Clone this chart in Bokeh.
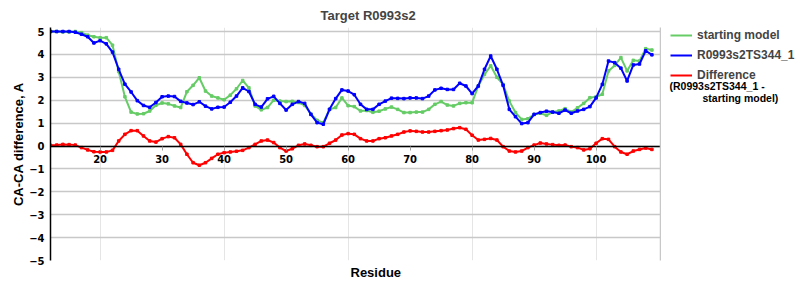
from bokeh.plotting import figure
from bokeh.layouts import row
from bokeh.models import (Range1d, LinearAxis, FixedTicker, Legend, LegendItem, Label, Grid, Title)
from bokeh.embed import file_html
from bokeh.resources import INLINE

residues = list(range(12, 110))

starting_model = [
    5.0, 5.0, 4.98, 4.98, 5.0, 4.95, 4.84, 4.77, 4.73, 4.73,
    4.4, 3.25, 2.15, 1.48, 1.4, 1.41, 1.53, 1.78, 1.88, 1.84,
    1.75, 1.68, 2.37, 2.65, 2.98, 2.4, 2.18, 2.1, 2.02, 2.22,
    2.5, 2.86, 2.54, 1.75, 1.58, 1.68, 2.0, 1.96, 1.94, 1.95,
    1.9, 1.77, 1.4, 1.12, 1.02, 1.6, 1.68, 2.1, 1.76, 1.72,
    1.53, 1.55, 1.47, 1.52, 1.62, 1.7, 1.6, 1.46, 1.46, 1.48,
    1.48, 1.6, 1.82, 1.94, 1.79, 1.75, 1.86, 1.89, 1.89, 2.62,
    3.13, 3.5, 3.0, 2.69, 1.96, 1.46, 1.16, 1.19, 1.38, 1.43,
    1.34, 1.48, 1.53, 1.63, 1.48, 1.67, 1.86, 2.11, 2.15, 2.26,
    3.28, 3.52, 3.86, 3.28, 3.74, 3.71, 4.25, 4.19,
]

ts344 = [
    5.0, 5.0, 5.0, 5.0, 4.97, 4.88, 4.77, 4.5, 4.6, 4.46,
    4.1, 3.35, 2.7, 2.36, 1.98, 1.77, 1.69, 1.9, 2.15, 2.18,
    2.16, 1.95, 1.88, 1.81, 1.93, 1.74, 1.62, 1.69, 1.7, 1.91,
    2.18, 2.54, 2.38, 1.82, 1.7, 2.06, 2.17, 1.86, 1.57, 1.82,
    1.94, 1.86, 1.38, 1.02, 0.95, 1.6, 2.07, 2.45, 2.4, 2.24,
    1.82, 1.6, 1.6, 1.82, 1.96, 2.09, 2.08, 2.07, 2.1, 2.1,
    2.07, 2.18, 2.45, 2.52, 2.47, 2.47, 2.74, 2.62, 2.29, 2.62,
    3.35, 3.93, 3.35, 2.65, 1.6, 1.28, 0.98, 1.02, 1.38, 1.46,
    1.52, 1.48, 1.43, 1.57, 1.43, 1.53, 1.6, 1.72, 2.1, 2.69,
    3.71, 3.64, 3.4, 2.84, 3.54, 3.58, 4.16, 3.98,
]

difference = [
    0.03, 0.04, 0.07, 0.06, 0.04, -0.07, -0.17, -0.25, -0.26, -0.26,
    -0.19, 0.22, 0.51, 0.67, 0.67, 0.44, 0.22, 0.17, 0.32, 0.41,
    0.36, 0.07, -0.36, -0.73, -0.84, -0.73, -0.54, -0.36, -0.29, -0.26,
    -0.23, -0.19, -0.07, 0.07, 0.22, 0.26, 0.15, -0.07, -0.22, -0.12,
    0.03, 0.09, 0.03, -0.03, -0.03, 0.12, 0.26, 0.48, 0.54, 0.51,
    0.32, 0.22, 0.22, 0.32, 0.36, 0.44, 0.51, 0.61, 0.66, 0.64,
    0.61, 0.61, 0.64, 0.67, 0.7, 0.76, 0.8, 0.73, 0.47, 0.26,
    0.29, 0.33, 0.26, -0.03, -0.22, -0.26, -0.22, -0.07, 0.04, 0.13,
    0.09, 0.06, 0.03, 0.04, -0.03, -0.07, -0.17, -0.12, 0.12, 0.32,
    0.29, -0.03, -0.26, -0.36, -0.22, -0.15, -0.09, -0.15,
]

x_ticks = [20, 30, 40, 50, 60, 70, 80, 90, 100]
y_ticks = [-5, -4, -3, -2, -1, 0, 1, 2, 3, 4, 5]

series_names = ["starting model", "R0993s2TS344_1", "Difference"]
series_values = [starting_model, ts344, difference]
difference_note = ["(R0993s2TS344_1 -", "starting model)"]

GREEN = "#66CC66"
BLUE = "#0000FF"
RED = "#FF0000"
COLORS = [GREEN, BLUE, RED]
GRID = "#C8C8C8"
SANS = "Liberation Sans"
TICKF = "DejaVu Sans"

PX_PER_UNIT = 22.9   # vertical scale of the chart frame
TOP_PAD = 4          # frame headroom above the "5" gridline (room for the legend text)

# ---------------- main chart ----------------
p = figure(width=661, height=300, output_backend="svg", toolbar_location=None,
           x_range=Range1d(12, 12 + 610 / 6.2),
           y_range=Range1d(-5, 5 + TOP_PAD / PX_PER_UNIT),
           x_axis_location=None, y_axis_location=None,
           min_border_left=50, min_border_right=1,
           min_border_top=31 - TOP_PAD, min_border_bottom=40)
p.background_fill_color = "white"
p.border_fill_color = "white"
p.outline_line_color = None

p.title.text = "Target R0993s2"
p.title.align = "left"
p.title.offset = 270
p.title.vertical_align = "bottom"
p.title.text_font = SANS
p.title.text_font_size = "13px"
p.title.text_font_style = "bold"
p.title.standoff = 9

grid = Grid(dimension=1, ticker=FixedTicker(ticks=y_ticks),
            grid_line_color=GRID, grid_line_width=1.5)
p.add_layout(grid)

yaxis = LinearAxis(ticker=FixedTicker(ticks=y_ticks), axis_label="CA-CA difference, A")
yaxis.axis_line_color = "black"
yaxis.axis_line_width = 1.5
yaxis.major_tick_out = 0
yaxis.major_tick_in = 0
yaxis.minor_tick_out = 0
yaxis.minor_tick_in = 0
yaxis.major_label_standoff = 6
yaxis.major_label_text_font = TICKF
yaxis.major_label_text_font_size = "10px"
yaxis.major_label_text_font_style = "bold"
yaxis.major_label_text_color = "black"
yaxis.axis_label_standoff = 0
yaxis.axis_label_text_font = SANS
yaxis.axis_label_text_font_size = "13px"
yaxis.axis_label_text_font_style = "bold"
yaxis.axis_label_text_color = "black"
p.add_layout(yaxis, "left")

# right border of the plot area
rborder = LinearAxis(ticker=FixedTicker(ticks=[]))
rborder.axis_line_color = GRID
rborder.axis_line_width = 1.5
rborder.major_tick_out = 0
rborder.major_tick_in = 0
rborder.minor_tick_out = 0
rborder.minor_tick_in = 0
rborder.major_label_text_font_size = "0px"
p.add_layout(rborder, "right")

xaxis = LinearAxis(ticker=FixedTicker(ticks=x_ticks), fixed_location=0)
xaxis.axis_line_color = "black"
xaxis.axis_line_width = 1.5
xaxis.major_tick_out = 4
xaxis.major_tick_in = 0
xaxis.major_tick_line_color = "#A0A0A0"
xaxis.minor_tick_out = 0
xaxis.minor_tick_in = 0
xaxis.major_label_standoff = 5
xaxis.major_label_text_font = TICKF
xaxis.major_label_text_font_size = "10px"
xaxis.major_label_text_font_style = "bold"
xaxis.major_label_text_color = "black"
p.add_layout(xaxis, "below")

xtitle = Title(text="Residue", align="left", offset=300, vertical_align="top",
               standoff=8, text_font=SANS, text_font_size="13px",
               text_font_style="bold", text_color="black")
p.add_layout(xtitle, "below")

for vals, col in zip(series_values, COLORS):
    p.line(residues, vals, line_color=col, line_width=2)
    p.scatter(residues, vals, marker="square", size=2.5, color=col)

# ---------------- legend panel (frame aligned with the chart's frame) ----------------
# x: 1000 + pixels from the panel's left edge; y: pixels from the canvas top
q = figure(width=139, height=300, output_backend="svg", toolbar_location=None, title=None,
           x_range=Range1d(1000, 1139), y_range=Range1d(260, 31 - TOP_PAD),
           x_axis_location=None, y_axis_location=None,
           min_border_left=0, min_border_right=0, min_border_top=0, min_border_bottom=0)
q.outline_line_color = None
q.background_fill_color = "white"
q.border_fill_color = "white"
q.grid.visible = False
q.xgrid.visible = False
q.ygrid.visible = False

items = []
for name, vals, col in zip(series_names, series_values, COLORS):
    # the series themselves, lying outside this panel's view; used for the legend swatches
    lr = q.line(residues, vals, line_color=col, line_width=2)
    items.append(LegendItem(label=name, renderers=[lr]))

legend = Legend(items=items, location=(4, 170))
legend.background_fill_alpha = 0
legend.border_line_alpha = 0
legend.glyph_width = 22
legend.glyph_height = 20
legend.label_height = 20
legend.label_standoff = 5
legend.spacing = 0
legend.padding = 5
legend.margin = 0
legend.label_text_font = SANS
legend.label_text_font_size = "12px"
legend.label_text_font_style = "bold"
q.add_layout(legend)

q.add_layout(Label(x=1008, y=85, text=difference_note[0], text_align="left",
                   text_baseline="middle", text_font=SANS, text_font_size="10.5px",
                   text_font_style="bold", text_color="black"))
q.add_layout(Label(x=1041, y=97, text=difference_note[1], text_align="left",
                   text_baseline="middle", text_font=SANS, text_font_size="10.5px",
                   text_font_style="bold", text_color="black"))

layout = row(p, q, spacing=0)
open("out.html", "w").write(file_html(layout, INLINE))
